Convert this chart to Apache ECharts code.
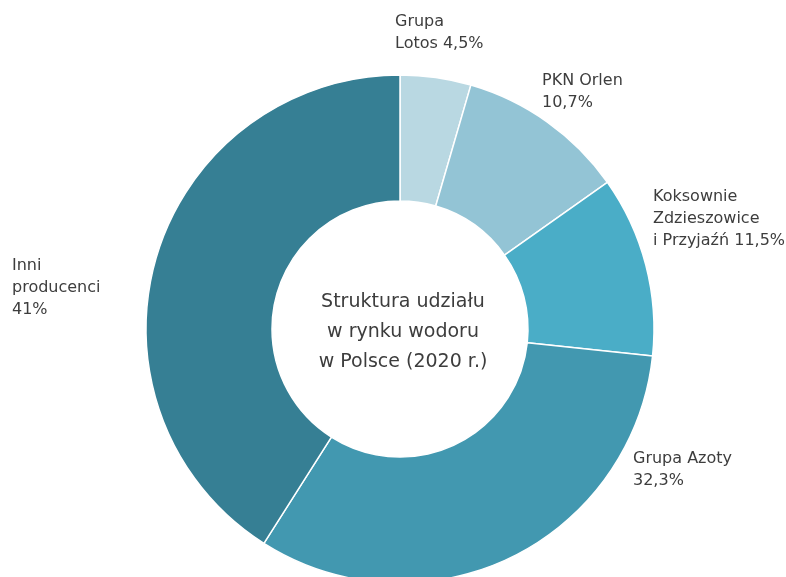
<!DOCTYPE html>
<html>
<head>
<meta charset="utf-8">
<script src="https://cdn.jsdelivr.net/npm/echarts@6/dist/echarts.min.js"></script>
<style>
    html, body { margin: 0; padding: 0; background: #fff; }
    #chart { width: 786px; height: 577px; }
</style>
</head>
<body>
<div id="chart"></div>
<script>
// shares of hydrogen production in Poland, 2020 (%)
const names   = ['Grupa\nLotos', 'PKN Orlen', 'Koksownie\nZdzieszowice\ni Przyjaźń', 'Grupa Azoty', 'Inni\nproducenci'];
const values  = [4.5, 10.7, 11.5, 32.3, 41];
const joiners = [' ', '\n', ' ', '\n', '\n'];
const colors  = ['#b9d8e2', '#93c4d5', '#4aadc7', '#4298b0', '#367f94'];
const centerText = 'Struktura udziału\nw rynku wodoru\nw Polsce (2020 r.)';

// label anchors (top-left of each label block)
const labelPos = [[395, 11], [542, 70], [653, 186], [633, 448], [12, 255]];

const fmt = v => String(v).replace('.', ',') + '%';
const FONT = '"DejaVu Sans", sans-serif';

const chart = echarts.init(document.getElementById('chart'));

chart.setOption({
    animation: false,
    color: colors,
    graphic: [{
        type: 'text',
        silent: true,
        style: {
            x: 403,
            y: 332,
            text: centerText,
            font: '19px ' + FONT,
            fill: '#3d3d3d',
            align: 'center',
            verticalAlign: 'middle',
            lineHeight: 30,
        },
    }],
    series: [{
        type: 'pie',
        center: [400, 329],
        radius: [128, 254],
        startAngle: 90,
        clockwise: true,
        silent: true,
        itemStyle: { borderColor: '#fff', borderWidth: 1.5 },
        label: {
            show: true,
            position: 'outside',
            overflow: 'none',
            color: '#3d3d3d',
            fontFamily: FONT,
            fontSize: 16,
            lineHeight: 22,
            formatter: p => p.name + joiners[p.dataIndex] + fmt(p.value),
        },
        labelLine: { show: false },
        labelLayout: p => ({
            x: labelPos[p.dataIndex][0],
            y: labelPos[p.dataIndex][1],
            align: 'left',
            verticalAlign: 'top',
        }),
        data: names.map((n, i) => ({ name: n, value: values[i] })),
    }],
});
</script>
</body>
</html>
